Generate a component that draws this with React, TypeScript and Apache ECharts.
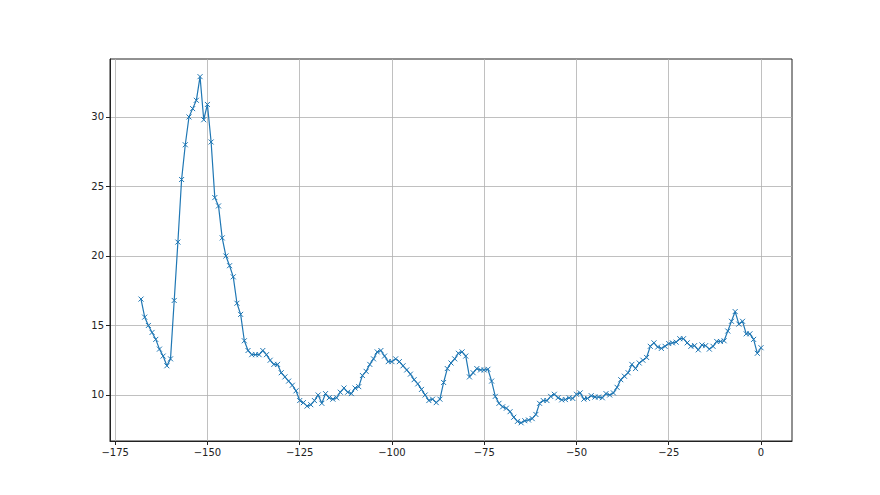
import React, { useEffect, useRef } from "react";
import * as echarts from "echarts";

const START_X = -168;
const VALUES: number[] = [
  16.9, 15.6, 15.0, 14.5, 14.0, 13.3, 12.8, 12.1, 12.6, 16.8,
  21.0, 25.5, 28.0, 30.0, 30.6, 31.2, 32.9, 29.8, 30.9, 28.2,
  24.2, 23.6, 21.3, 20.0, 19.3, 18.5, 16.6, 15.8, 13.9, 13.2,
  12.9, 12.9, 12.9, 13.2, 12.9, 12.5, 12.2, 12.2, 11.6, 11.3,
  11.0, 10.7, 10.3, 9.6, 9.45, 9.2, 9.3, 9.6, 10.0, 9.4,
  10.1, 9.8, 9.7, 9.8, 10.2, 10.5, 10.2, 10.1, 10.5, 10.6,
  11.4, 11.7, 12.2, 12.6, 13.1, 13.2, 12.8, 12.4, 12.4, 12.6,
  12.4, 12.1, 11.8, 11.5, 11.1, 10.8, 10.4, 10.0, 9.6, 9.7,
  9.45, 9.7, 10.9, 11.9, 12.3, 12.6, 13.0, 13.1, 12.8, 11.3,
  11.6, 11.9, 11.8, 11.8, 11.85, 11.0, 9.9, 9.4, 9.15, 9.05,
  8.8, 8.4, 8.1, 8.0, 8.15, 8.2, 8.3, 8.6, 9.4, 9.6,
  9.6, 9.9, 10.05, 9.8, 9.65, 9.67, 9.8, 9.75, 10.05, 10.15,
  9.7, 9.75, 9.95, 9.85, 9.85, 9.8, 10.1, 10.0, 10.15, 10.55,
  11.1, 11.35, 11.6, 12.2, 11.9, 12.3, 12.5, 12.7, 13.5, 13.75,
  13.45, 13.35, 13.5, 13.7, 13.75, 13.8, 14.05, 14.05, 13.75, 13.5,
  13.55, 13.25, 13.6, 13.55, 13.3, 13.5, 13.85, 13.85, 13.9, 14.6,
  15.3, 16.0, 15.1, 15.3, 14.4, 14.4, 14.0, 13.0, 13.4,
];
const X_TICKS = [-175, -150, -125, -100, -75, -50, -25, 0];
const Y_TICKS = [10, 15, 20, 25, 30];

const fmt = (v: number | string) => String(v).replace("-", "\u2212");

export default function App() {
  const ref = useRef<HTMLDivElement>(null);
  useEffect(() => {
    if (!ref.current) return;
    const chart = echarts.init(ref.current, null, { renderer: "svg" });
    const data = VALUES.map((v, i) => [START_X + i, v]);
    const axisCommon = {
      axisLine: { show: true, onZero: false, lineStyle: { color: "#222", width: 1 } },
      axisTick: { show: true, length: 4, inside: false, lineStyle: { color: "#222", width: 1 } },
      axisLabel: { color: "#222", fontSize: 10, fontFamily: "DejaVu Sans", formatter: fmt },
      splitLine: { show: false },
    };
    chart.setOption({
      animation: false,
      backgroundColor: "#fff",
      grid: {
        left: 110,
        right: 88,
        top: 59,
        bottom: 54,
        show: true,
        borderColor: "#222",
        borderWidth: 1,
        containLabel: false,
      },
      xAxis: {
        type: "value",
        min: -176.4,
        max: 8.4,
        ...axisCommon,
        axisTick: { ...axisCommon.axisTick, customValues: X_TICKS },
        axisLabel: { ...axisCommon.axisLabel, customValues: X_TICKS, margin: 6 },
      },
      yAxis: {
        type: "value",
        min: 6.69,
        max: 34.17,
        ...axisCommon,
        axisTick: { ...axisCommon.axisTick, customValues: Y_TICKS },
        axisLabel: { ...axisCommon.axisLabel, customValues: Y_TICKS, margin: 6 },
      },
      series: [
        {
          type: "line",
          data,
          symbol: "path://M0,0L10,10M10,0L0,10",
          symbolSize: 5,
          showAllSymbol: true,
          lineStyle: { color: "#1f77b4", width: 1.2 },
          itemStyle: { color: "rgba(0,0,0,0)", borderColor: "#1f77b4", borderWidth: 1 },
          markLine: {
            silent: true,
            symbol: "none",
            label: { show: false },
            lineStyle: { color: "#b0b0b0", width: 0.8, type: "solid" },
            data: [
              ...X_TICKS.map((x) => ({ xAxis: x })),
              ...Y_TICKS.map((y) => ({ yAxis: y })),
            ],
            z: 0,
          },
          z: 3,
        },
      ],
    });
    return () => chart.dispose();
  }, []);
  return (
    <div
      ref={ref}
      style={{ position: "fixed", left: 0, top: 0, width: 880, height: 495 }}
    />
  );
}
